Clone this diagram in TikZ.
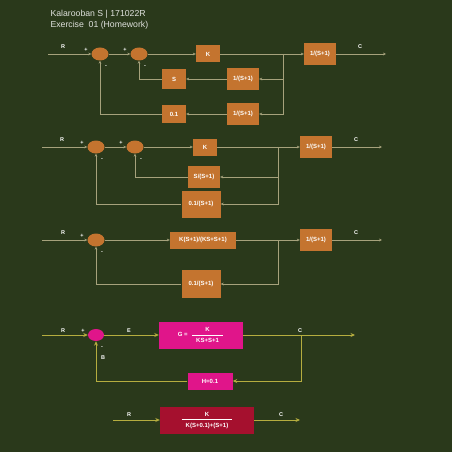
\documentclass[tikz,border=0pt]{standalone}
\usepackage{fontspec}
\setmainfont{Liberation Sans}
\usetikzlibrary{shapes.geometric, arrows.meta, positioning, calc}

\definecolor{bgcol}{HTML}{2A391B}
\definecolor{blkcol}{HTML}{C4742F}
\definecolor{wirecol}{HTML}{A6A27C}
\definecolor{wireylw}{HTML}{B5AD3F}
\definecolor{magcol}{HTML}{E0158A}
\definecolor{redcol}{HTML}{A5102E}

\tikzset{
  blk/.style={fill=blkcol, text=white, font=\fontsize{6}{7}\selectfont\bfseries, inner sep=1pt},
  sumj/.style={ellipse, fill=blkcol, minimum width=17, minimum height=13, inner sep=0pt},
  lbl/.style={text=white, font=\fontsize{5.5}{6}\selectfont\bfseries, inner sep=0pt},
  wire/.style={draw=wirecol, line width=0.6pt},
  wireto/.style={wire, -{Stealth[length=3pt, width=2.8pt]}},
  ylwto/.style={draw=wireylw, line width=0.7pt, -{Stealth[length=4.5pt, width=4pt]}},
}

\begin{document}
\begin{tikzpicture}[x=1pt, y=-1pt]
\useasboundingbox[fill=bgcol] (0,0) rectangle (452,452);

% Title
\node[anchor=west, text=white!85!bgcol, font=\fontsize{8.7}{10}\selectfont] (ttl1) at (47,14) {Kalarooban S | 171022R};
\node[anchor=west, text=white!85!bgcol, font=\fontsize{8.7}{10}\selectfont] (ttl2) at (47,25) {Exercise\ \ 01 (Homework)};

% ---------- Diagram 1 ----------
\coordinate (ra) at (48,54);
\coordinate (ja) at (283,54);
\coordinate (ca) at (386,54);
\node[sumj] (s1a) at (100,54) {};
\node[sumj] (s2a) at (139,54) {};
\node[blk, minimum width=24, minimum height=17] (ka) at (208,54) {K};
\node[blk, minimum width=32, minimum height=22] (pa) at (320,54) {1/(S+1)};
\node[blk, minimum width=24, minimum height=20] (sa) at (174,79) {S};
\node[blk, minimum width=32, minimum height=22] (fa) at (243,79) {1/(S+1)};
\node[blk, minimum width=24, minimum height=18] (ha) at (174,114) {0.1};
\node[blk, minimum width=32, minimum height=22] (ga) at (243,114) {1/(S+1)};

\draw[wireto] (ra) -- (s1a.west);
\draw[wireto] (s1a.east) -- (s2a.west);
\draw[wireto] (s2a.east) -- (ka.west);
\draw[wireto] (ka.east) -- (pa.west);
\draw[wireto] (pa.east) -- (ca);
\draw[wireto] (ja) |- (fa.east);
\draw[wireto] (fa.west) -- (sa.east);
\draw[wireto] (sa.west) -| (s2a.south);
\draw[wireto] (ja) |- (ga.east);
\draw[wireto] (ga.west) -- (ha.east);
\draw[wireto] (ha.west) -| (s1a.south);

\node[lbl] (lra) at (63,47) {R};
\node[lbl] (lca) at (360,47) {C};
\node[lbl] (p1a) at (86,50) {+};
\node[lbl] (m1a) at (106,67) {-};
\node[lbl] (p2a) at (125,50) {+};
\node[lbl] (m2a) at (145,67) {-};

% ---------- Diagram 2 ----------
\coordinate (rb) at (42,147);
\coordinate (jb) at (278,147);
\coordinate (cb) at (382,147);
\node[sumj] (s1b) at (96,147) {};
\node[sumj] (s2b) at (135,147) {};
\node[blk, minimum width=24, minimum height=17] (kb) at (205,147) {K};
\node[blk, minimum width=32, minimum height=22] (pb) at (316,147) {1/(S+1)};
\node[blk, minimum width=32, minimum height=22] (fb) at (204,177) {S/(S+1)};
\node[blk, minimum width=39, minimum height=27] (gb) at (201,204) {0.1/(S+1)};

\draw[wireto] (rb) -- (s1b.west);
\draw[wireto] (s1b.east) -- (s2b.west);
\draw[wireto] (s2b.east) -- (kb.west);
\draw[wireto] (kb.east) -- (pb.west);
\draw[wireto] (pb.east) -- (cb);
\draw[wireto] (jb) |- (fb.east);
\draw[wireto] (fb.west) -| (s2b.south);
\draw[wireto] (jb) |- (gb.east);
\draw[wireto] (gb.west) -| (s1b.south);

\node[lbl] (lrb) at (62,140) {R};
\node[lbl] (lcb) at (356,140) {C};
\node[lbl] (p1b) at (82,143) {+};
\node[lbl] (m1b) at (102,160) {-};
\node[lbl] (p2b) at (121,143) {+};
\node[lbl] (m2b) at (141,160) {-};

% ---------- Diagram 3 ----------
\coordinate (rc) at (42,240);
\coordinate (jc) at (278,240);
\coordinate (cc) at (382,240);
\node[sumj] (s1c) at (96,240) {};
\node[blk, minimum width=66, minimum height=17] (kc) at (203,240) {K(S+1)/(KS+S+1)};
\node[blk, minimum width=32, minimum height=22] (pc) at (316,240) {1/(S+1)};
\node[blk, minimum width=39, minimum height=28] (gc) at (201,284) {0.1/(S+1)};

\draw[wireto] (rc) -- (s1c.west);
\draw[wireto] (s1c.east) -- (kc.west);
\draw[wireto] (kc.east) -- (pc.west);
\draw[wireto] (pc.east) -- (cc);
\draw[wireto] (jc) |- (gc.east);
\draw[wireto] (gc.west) -| (s1c.south);

\node[lbl] (lrc) at (63,233) {R};
\node[lbl] (lcc) at (356,233) {C};
\node[lbl] (p1c) at (82,236) {+};
\node[lbl] (m1c) at (102,253) {-};

% ---------- Diagram 4 ----------
\coordinate (rd) at (42,335);
\coordinate (jd) at (301,335);
\coordinate (cd) at (355,335);
\node[sumj, fill=magcol, minimum width=16, minimum height=12] (s1d) at (96,335) {};
\node[blk, fill=magcol, minimum width=84, minimum height=27] (gd) at (201,335)
  {G =\ \ $\displaystyle\frac{\mbox{K}\rule[-1.5pt]{0pt}{6pt}}{\hspace{4pt}\mbox{KS+S+1}\hspace{4pt}\rule{0pt}{6pt}}$};
\node[blk, fill=magcol, minimum width=45, minimum height=17] (hd) at (210,381) {H=0.1};

\draw[ylwto] (rd) -- (s1d.west);
\draw[ylwto] (s1d.east) -- (gd.west);
\draw[ylwto] (gd.east) -- (cd);
\draw[ylwto] (jd) |- (hd.east);
\draw[ylwto] (hd.west) -| (s1d.south);

\node[lbl] (lrd) at (63,331) {R};
\node[lbl] (p1d) at (83,331) {+};
\node[lbl] (led) at (129,331) {E};
\node[lbl] (lcd) at (300,331) {C};
\node[lbl] (m1d) at (102,348) {-};
\node[lbl] (lbd) at (103,358) {B};

% ---------- Diagram 5 ----------
\coordinate (re) at (113,420);
\coordinate (ce) at (300,420);
\node[blk, fill=redcol, minimum width=94, minimum height=27] (te) at (207,420)
  {$\displaystyle\frac{\mbox{K}\rule[-1.5pt]{0pt}{6pt}}{\hspace{4pt}\mbox{K(S+0.1)+(S+1)}\hspace{4pt}\rule{0pt}{6pt}}$};

\draw[ylwto] (re) -- (te.west);
\draw[ylwto] (te.east) -- (ce);

\node[lbl] (lre) at (129,415) {R};
\node[lbl] (lce) at (281,415) {C};
\end{tikzpicture}
\end{document}
